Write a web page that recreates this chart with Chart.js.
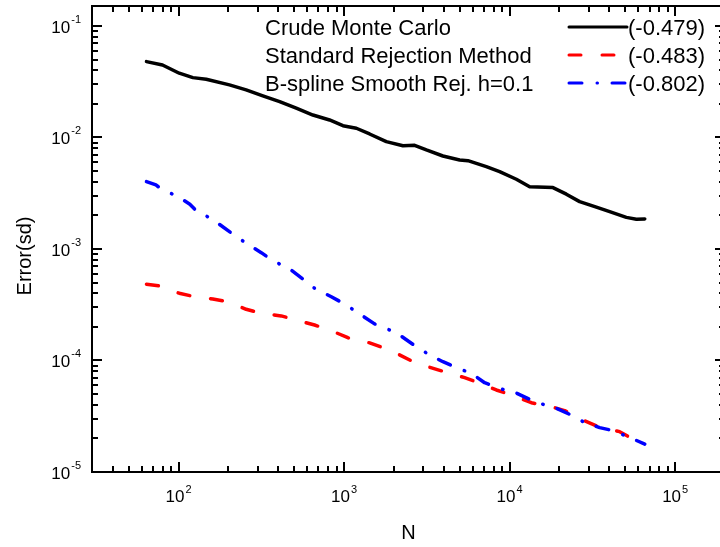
<!DOCTYPE html>
<html>
<head>
<meta charset="utf-8">
<script src="https://cdn.jsdelivr.net/npm/chart.js@4"></script>
<style>
  html, body { margin: 0; padding: 0; background: #fff; overflow: hidden; }
  canvas { display: block; }
</style>
</head>
<body>
<canvas id="errChart" width="726" height="547"></canvas>
<script>
// Values (log-log error vs. N)
const crudeN = [64, 80, 101, 122, 147, 203, 256, 323, 408, 514, 648, 817, 984, 1186, 1426, 1799, 2266, 2667, 3140, 3954, 4989, 5598, 7230, 8700, 10978, 13210, 18270, 22010, 26480, 33400, 40200, 50700, 58300, 65536];
const crudeErr = [0.0479, 0.0447, 0.0377, 0.0344, 0.0333, 0.0296, 0.0267, 0.0236, 0.0210, 0.0183, 0.0159, 0.01435, 0.01276, 0.0121, 0.01075, 0.00917, 0.00844, 0.00851, 0.00773, 0.00682, 0.00628, 0.00619, 0.00547, 0.00494, 0.00422, 0.00362, 0.00355, 0.00310, 0.00266, 0.00237, 0.00216, 0.00192, 0.00185, 0.00186];

const rejN = [64, 77, 101, 125, 161, 199, 256, 316, 417, 514, 663, 817, 1054, 1426, 1884, 2067, 2730, 3286, 4341, 5346, 6897, 8310, 10978, 13520, 17860, 21490, 28390, 34170, 46200, 54360];
const rejErr = [4.82e-4, 4.66e-4, 4.01e-4, 3.73e-4, 3.56e-4, 3.37e-4, 2.88e-4, 2.65e-4, 2.51e-4, 2.31e-4, 2.08e-4, 1.88e-4, 1.60e-4, 1.44e-4, 1.24e-4, 1.16e-4, 9.44e-5, 8.69e-5, 7.68e-5, 7.01e-5, 6.12e-5, 5.44e-5, 4.73e-5, 4.18e-5, 3.85e-5, 3.55e-5, 2.88e-5, 2.55e-5, 2.30e-5, 2.01e-5];

const splineN = [64, 73, 80, 97, 117, 134, 147, 173, 203, 256, 316, 371, 469, 564, 663, 837, 1007, 1211, 1528, 1799, 2164, 2730, 3286, 3954, 4871, 5869, 7063, 8910, 10720, 13210, 15890, 19150, 23040, 27730, 34990, 42080, 51850, 65536];
const splineErr = [4.02e-3, 3.75e-3, 3.38e-3, 3.01e-3, 2.52e-3, 2.05e-3, 1.98e-3, 1.70e-3, 1.43e-3, 1.125e-3, 9.27e-4, 7.85e-4, 6.62e-4, 5.38e-4, 4.44e-4, 3.73e-4, 3.21e-4, 2.68e-4, 2.13e-4, 1.94e-4, 1.69e-4, 1.33e-4, 1.12e-4, 9.75e-5, 8.51e-5, 7.68e-5, 6.32e-5, 5.55e-5, 5.19e-5, 4.49e-5, 4.05e-5, 3.73e-5, 3.29e-5, 2.83e-5, 2.50e-5, 2.35e-5, 2.07e-5, 1.78e-5];

const seriesNames = ['Crude Monte Carlo', 'Standard Rejection Method', 'B-spline Smooth Rej. h=0.1'];
const slopeLabels = ['(-0.479)', '(-0.483)', '(-0.802)'];

const xMajorTicks = [1e2, 1e3, 1e4, 1e5];
const xTickExp = ['2', '3', '4', '5'];
const yMajorTicks = [1e-5, 1e-4, 1e-3, 1e-2, 1e-1];
const yTickExp = ['-5', '-4', '-3', '-2', '-1'];

const FONT = "'Liberation Sans', Arial, Helvetica, sans-serif";
const LINE_W = 3.5;
const dashRed = [12, 21];
const dashBlue = [13, 15, 0.5, 14.5];

function toPoints(xs, ys) {
    return xs.map((v, i) => ({ x: v, y: ys[i] }));
}

// all 1..9 x 10^n values within [min, max]
function logTickValues(min, max) {
    const out = [];
    for (let e = Math.floor(Math.log10(min)); e <= Math.ceil(Math.log10(max)); e++) {
        for (let m = 1; m <= 9; m++) {
            const v = m * Math.pow(10, e);
            if (v >= min * 0.9999 && v <= max * 1.0001) out.push({ v: v, major: m === 1 });
        }
    }
    return out;
}

// frame, inward ticks, superscript labels, titles and legend
const framePlugin = {
    id: 'frame',
    afterDraw(chart) {
        const ctx = chart.ctx;
        const a = chart.chartArea;
        const xs = chart.scales.x;
        const ys = chart.scales.y;
        ctx.save();
        ctx.strokeStyle = '#000';
        ctx.fillStyle = '#000';
        ctx.lineWidth = 2;
        ctx.setLineDash([]);

        ctx.beginPath();
        logTickValues(xs.min, xs.max).forEach(t => {
            const px = Math.round(xs.getPixelForValue(t.v));
            const len = t.major ? 10 : 6;
            ctx.moveTo(px, a.bottom); ctx.lineTo(px, a.bottom - len);
            ctx.moveTo(px, a.top); ctx.lineTo(px, a.top + len);
        });
        logTickValues(ys.min, ys.max).forEach(t => {
            const py = Math.round(ys.getPixelForValue(t.v));
            const len = t.major ? 10 : 6;
            ctx.moveTo(a.left, py); ctx.lineTo(a.left + len, py);
            ctx.moveTo(a.right, py); ctx.lineTo(a.right - len, py);
        });
        ctx.stroke();
        ctx.strokeRect(a.left, a.top, a.right - a.left, a.bottom - a.top);

        // tick labels: "10" with superscript exponent
        ctx.textBaseline = 'alphabetic';
        ctx.textAlign = 'left';
        const baseFont = '17px ' + FONT;
        const supFont = '11px ' + FONT;
        xMajorTicks.forEach((v, i) => {
            const px = xs.getPixelForValue(v);
            ctx.font = baseFont;
            const wb = ctx.measureText('10').width;
            ctx.font = supFont;
            const we = ctx.measureText(xTickExp[i]).width;
            const x0 = px - (wb + we + 1) / 2;
            ctx.font = baseFont;
            ctx.fillText('10', x0, a.bottom + 30);
            ctx.font = supFont;
            ctx.fillText(xTickExp[i], x0 + wb + 1, a.bottom + 21);
        });
        yMajorTicks.forEach((v, i) => {
            const py = ys.getPixelForValue(v);
            ctx.font = supFont;
            const we = ctx.measureText(yTickExp[i]).width;
            ctx.font = baseFont;
            const wb = ctx.measureText('10').width;
            const right = a.left - 11;
            ctx.fillText('10', right - we - wb - 1, py + 7);
            ctx.font = supFont;
            ctx.fillText(yTickExp[i], right - we, py - 3);
        });

        // axis titles
        ctx.font = '20px ' + FONT;
        ctx.textAlign = 'center';
        ctx.fillText('N', (a.left + a.right) / 2, 539);
        ctx.save();
        ctx.translate(31, 256);
        ctx.rotate(-Math.PI / 2);
        ctx.fillText('Error(sd)', 0, 0);
        ctx.restore();

        // legend
        ctx.font = '22px ' + FONT;
        ctx.textAlign = 'left';
        ctx.lineCap = 'round';
        const styles = chart.data.datasets.map(d => ({ color: d.borderColor, dash: d.borderDash || [] }));
        seriesNames.forEach((name, i) => {
            const ly = 27 + i * 28;
            ctx.fillStyle = '#000';
            ctx.fillText(name, 265, ly + 8);
            ctx.fillText(slopeLabels[i], 628, ly + 8);
            ctx.beginPath();
            ctx.strokeStyle = styles[i].color;
            ctx.lineWidth = 3;
            ctx.setLineDash(styles[i].dash);
            ctx.moveTo(569, ly);
            ctx.lineTo(627, ly);
            ctx.stroke();
        });
        ctx.restore();
    }
};

new Chart(document.getElementById('errChart').getContext('2d'), {
    type: 'scatter',
    data: {
        datasets: [
            {
                label: seriesNames[0],
                data: toPoints(crudeN, crudeErr),
                borderColor: '#000000',
                borderWidth: LINE_W,
                order: 2
            },
            {
                label: seriesNames[1],
                data: toPoints(rejN, rejErr),
                borderColor: '#ff0000',
                borderWidth: LINE_W,
                borderDash: dashRed,
                order: 1
            },
            {
                label: seriesNames[2],
                data: toPoints(splineN, splineErr),
                borderColor: '#0000ff',
                borderWidth: LINE_W,
                borderDash: dashBlue,
                order: 0
            }
        ]
    },
    options: {
        responsive: false,
        devicePixelRatio: 1,
        animation: false,
        showLine: true,
        elements: {
            point: { radius: 0, hoverRadius: 0 },
            line: { tension: 0, borderCapStyle: 'round', borderJoinStyle: 'round' }
        },
        layout: { padding: { left: 92, top: 6, right: 1, bottom: 75 } },
        scales: {
            x: { type: 'logarithmic', min: 30, max: 200000, display: false },
            y: { type: 'logarithmic', min: 1e-5, max: 0.151, display: false }
        },
        plugins: {
            legend: { display: false },
            tooltip: { enabled: false }
        }
    },
    plugins: [framePlugin]
});
</script>
</body>
</html>
